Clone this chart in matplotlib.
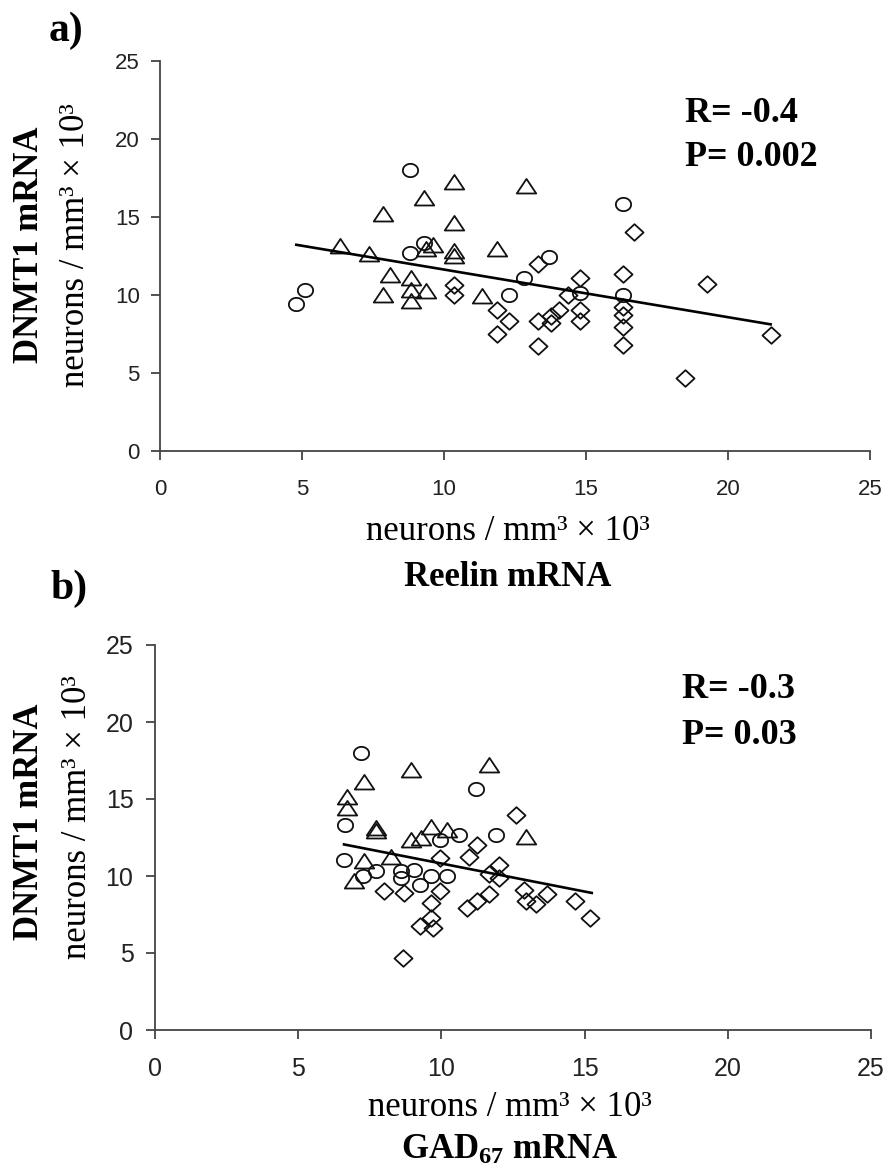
import numpy as np
import matplotlib.pyplot as plt
from matplotlib.path import Path

plt.rcParams["mathtext.fontset"] = "custom"
plt.rcParams["mathtext.rm"] = "Liberation Serif"
plt.rcParams["mathtext.bf"] = "Liberation Serif:bold"
plt.rcParams["mathtext.it"] = "Liberation Serif:italic"

# panel a: Reelin vs DNMT1
circ_a_x = [8.8, 5.1, 4.8, 9.3, 8.8, 16.3, 13.7, 12.8, 12.3, 14.8, 16.3]
circ_a_y = [18.0, 10.3, 9.4, 13.3, 12.7, 15.8, 12.4, 11.1, 10.0, 10.1, 10.0]

tri_a_x = [10.35, 9.3, 7.85, 10.35, 6.35, 9.6, 7.35, 9.35, 10.35, 10.35,
           11.85, 8.1, 8.85, 8.85, 9.35, 7.85, 8.85, 11.35, 12.9]
tri_a_y = [17.2, 16.2, 15.2, 14.6, 13.1, 13.2, 12.6, 12.9, 12.8, 12.5,
           12.9, 11.25, 11.05, 10.3, 10.25, 9.95, 9.6, 9.9, 17.0]

diam_a_x = [10.35, 10.35, 11.85, 11.85, 16.7, 13.3, 14.8, 16.3, 19.25, 14.35,
            12.3, 13.3, 13.75, 13.75, 14.05, 14.8, 14.8, 13.3, 16.3, 16.3,
            16.3, 16.3, 21.5, 18.5]
diam_a_y = [10.6, 10.0, 9.0, 7.45, 14.0, 12.0, 11.1, 11.3, 10.7, 10.0,
            8.3, 8.3, 8.65, 8.2, 9.0, 9.0, 8.3, 6.7, 9.2, 8.7,
            7.95, 6.8, 7.4, 4.65]

fit_a_x = [4.8, 21.5]
fit_a_y = [13.2, 8.1]

# panel b: GAD67 vs DNMT1
circ_b_x = [7.2, 11.2, 6.65, 10.6, 11.9, 9.95, 6.6, 7.7, 7.25, 8.6,
            9.05, 9.65, 10.2, 9.25, 8.6]
circ_b_y = [18.0, 15.65, 13.3, 12.65, 12.65, 12.35, 11.05, 10.3, 10.0, 10.3,
            10.4, 10.0, 10.0, 9.4, 9.85]

tri_b_x = [11.65, 8.95, 7.3, 6.7, 6.7, 7.7, 7.7, 9.65, 10.2, 9.3,
           8.95, 12.95, 8.25, 7.3, 6.95]
tri_b_y = [17.2, 16.9, 16.1, 15.15, 14.4, 13.1, 12.9, 13.2, 13.0, 12.5,
           12.35, 12.55, 11.25, 10.95, 9.65]

diam_b_x = [12.6, 11.25, 10.95, 9.95, 12.0, 11.65, 12.0, 8.0, 8.7, 9.95,
            9.65, 12.9, 13.7, 12.95, 13.3, 14.65, 11.65, 11.25, 10.9, 9.65,
            9.25, 9.7, 15.2, 8.65]
diam_b_y = [13.95, 12.0, 11.25, 11.15, 10.7, 10.15, 9.85, 9.0, 8.9, 9.0,
            8.25, 9.1, 8.8, 8.35, 8.2, 8.35, 8.8, 8.35, 7.95, 7.25,
            6.75, 6.6, 7.25, 4.7]

fit_b_x = [6.6, 15.25]
fit_b_y = [12.05, 8.9]

ticks = [0, 5, 10, 15, 20, 25]

W, H = 888, 1172


def fx(x):
    return x / W


def fy(y):
    return 1 - y / H


# marker shapes
t = np.linspace(0, 2 * np.pi, 40)
ellipse = Path(np.column_stack([np.cos(t), 0.87 * np.sin(t)]))
triangle = Path([(-1, -0.72), (1, -0.72), (0, 0.78), (-1, -0.72)],
                [Path.MOVETO, Path.LINETO, Path.LINETO, Path.CLOSEPOLY])
diamond = Path([(0, 0.92), (1, 0), (0, -0.92), (-1, 0), (0, 0.92)],
               [Path.MOVETO, Path.LINETO, Path.LINETO, Path.LINETO, Path.CLOSEPOLY])

fig = plt.figure(figsize=(W / 100, H / 100), dpi=100)

ax_a = fig.add_axes([fx(160), fy(450.7), fx(870) - fx(160), (450.7 - 60.7) / H])
ax_b = fig.add_axes([fx(155), fy(1030), fx(871) - fx(155), (1030 - 645) / H])

panels = [
    (ax_a, circ_a_x, circ_a_y, tri_a_x, tri_a_y, diam_a_x, diam_a_y, fit_a_x, fit_a_y, 16, 8, 14),
    (ax_b, circ_b_x, circ_b_y, tri_b_x, tri_b_y, diam_b_x, diam_b_y, fit_b_x, fit_b_y, 18, 9, 13),
]

for ax, cx, cy, tx, ty, dx, dy, lx, ly, fs, ypad, xpad in panels:
    ax.plot(cx, cy, linestyle="none", marker=ellipse, markersize=11,
            markerfacecolor="none", markeredgecolor="#111111", markeredgewidth=1.3)
    ax.plot(tx, ty, linestyle="none", marker=triangle, markersize=14,
            markerfacecolor="none", markeredgecolor="#111111", markeredgewidth=1.3)
    ax.plot(dx, dy, linestyle="none", marker=diamond, markersize=13,
            markerfacecolor="none", markeredgecolor="#111111", markeredgewidth=1.3)
    ax.plot(lx, ly, color="black", linewidth=1.9)

    ax.set_xlim(0, 25)
    ax.set_ylim(0, 25)
    ax.set_xticks(ticks)
    ax.set_yticks(ticks)
    for s in ["top", "right"]:
        ax.spines[s].set_visible(False)
    for s in ["left", "bottom"]:
        ax.spines[s].set_color("#444444")
        ax.spines[s].set_linewidth(1.3)
    ax.tick_params(direction="out", length=6.5, width=1.3, color="#444444",
                   labelsize=fs, labelcolor="#222222")
    ax.tick_params(axis="y", pad=ypad)
    ax.tick_params(axis="x", pad=xpad)
    for lab in ax.get_xticklabels() + ax.get_yticklabels():
        lab.set_fontfamily("Liberation Sans")
    ax.set_facecolor("none")

serif = "Liberation Serif"
unit = "neurons / mm³ × 10³"

# panel a text
fig.text(fx(66), fy(31), "a)", fontsize=30, fontweight="bold", family=serif,
         ha="center", va="center")
fig.text(fx(30), fy(245), "DNMT1 mRNA", fontsize=25, fontweight="bold", family=serif,
         rotation=90, ha="center", va="center")
fig.text(fx(76), fy(245), unit, fontsize=25, family=serif,
         rotation=90, ha="center", va="center")
fig.text(fx(508), fy(532), unit, fontsize=25, family=serif, ha="center", va="center")
fig.text(fx(508), fy(578), "Reelin mRNA", fontsize=25, fontweight="bold", family=serif,
         ha="center", va="center")
fig.text(fx(685), fy(113), "R= -0.4", fontsize=26, fontweight="bold", family=serif,
         ha="left", va="center")
fig.text(fx(685), fy(157), "P= 0.002", fontsize=26, fontweight="bold", family=serif,
         ha="left", va="center")

# panel b text
fig.text(fx(69), fy(589), "b)", fontsize=30, fontweight="bold", family=serif,
         ha="center", va="center")
fig.text(fx(29), fy(822), "DNMT1 mRNA", fontsize=25, fontweight="bold", family=serif,
         rotation=90, ha="center", va="center")
fig.text(fx(78), fy(817), unit, fontsize=25, family=serif,
         rotation=90, ha="center", va="center")
fig.text(fx(510), fy(1108), unit, fontsize=25, family=serif, ha="center", va="center")
fig.text(fx(510), fy(1150), r"GAD$_{\mathbf{67}}$ mRNA", fontsize=25, fontweight="bold",
         family=serif, ha="center", va="center")
fig.text(fx(682), fy(690), "R= -0.3", fontsize=26, fontweight="bold", family=serif,
         ha="left", va="center")
fig.text(fx(682), fy(735), "P= 0.03", fontsize=26, fontweight="bold", family=serif,
         ha="left", va="center")

fig.savefig("out.png", dpi=100)
